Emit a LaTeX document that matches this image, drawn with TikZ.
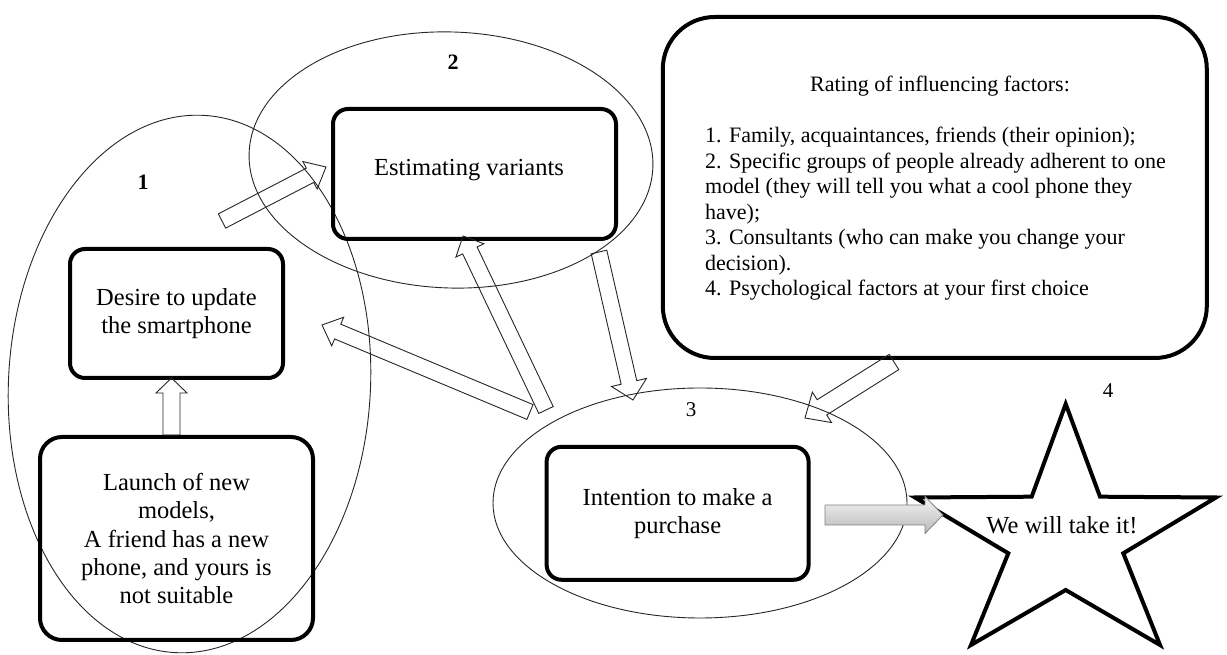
\documentclass[tikz,border=0pt]{standalone}
\usepackage{fontspec}
\setmainfont{Liberation Serif}
\usetikzlibrary{calc}
\tikzset{
  grp/.style={draw=black!85, line width=0.9pt},
  stepbox/.style={draw, line width=4pt, rounded corners=15pt, align=center, inner sep=0pt,
    font=\fontsize{24.5}{28.2}\selectfont},
  lbl/.style={font=\fontsize{21}{24}\selectfont, inner sep=0pt},
  hollow/.style={draw=black!85, line width=0.9pt, line join=miter},
  grayarrow/.style={draw=black!50, line width=0.8pt, top color=gray!8, bottom color=gray!55},
  rtext/.style={font=\fontsize{22}{25.5}\selectfont, inner sep=0pt},
}
% #1 style, #2 from, #3 to, #4 half shaft, #5 half head, #6 head length
\newcommand\barrow[6][hollow]{%
  \coordinate (bh) at ($(#3)!#6!(#2)$);
  \draw[#1] ($(#2)!#4!90:(#3)$) -- ($(bh)!#4!-90:(#2)$) -- ($(bh)!#5!-90:(#2)$) -- (#3)
    -- ($(bh)!#5!90:(#2)$) -- ($(bh)!#4!90:(#2)$) -- ($(#2)!#4!-90:(#3)$) -- cycle;}
\begin{document}
\begin{tikzpicture}[x=1pt,y=1pt]
\useasboundingbox (0,0) rectangle (1227,655);

% group ellipses
\draw[grp, rotate around={-3:(189.5,271)}] (189.5,271) ellipse [x radius=181, y radius=269];
\draw[grp, rotate around={-2:(451,495)}] (451,495) ellipse [x radius=202, y radius=128];
\draw[grp] (700,152) ellipse [x radius=207, y radius=115];

% step boxes
\node[stepbox, minimum width=213, minimum height=129] (desire) at (176.5,341.5) {Desire to update\\the smartphone};
\node[stepbox, rounded corners=22pt, minimum width=273, minimum height=203] (launch) at (176.5,116.5)
  {Launch of new\\models,\\A friend has a new\\phone, and yours is\\not suitable};
\node[stepbox, minimum width=283, minimum height=130] (estim) at (474.5,481) {};
\node[font=\fontsize{24.5}{28.2}\selectfont, inner sep=0pt] (estimtext) at (469,485) {Estimating variants};
\node[stepbox, minimum width=262, minimum height=133] (intent) at (677.6,141.7) {Intention to make a\\purchase};
\node[stepbox, rounded corners=52pt, minimum width=544, minimum height=341] (rating) at (934.8,467.5) {};
\node[rtext, anchor=base] (rtitle) at (940,563) {Rating of influencing factors:};
\node[rtext, anchor=north west, align=left] (rlist) at (705,528)
  {1. Family, acquaintances, friends (their opinion);\\
   2. Specific groups of people already adherent to one\\
   model (they will tell you what a cool phone they\\
   have);\\
   3. Consultants (who can make you change your\\
   decision).\\
   4. Psychological factors at your first choice};

% group labels
\node[lbl, font=\fontsize{22}{24}\selectfont\bfseries] (g1) at (143,473) {1};
\node[lbl, font=\fontsize{22}{24}\selectfont\bfseries] (g2) at (453,593) {2};
\node[lbl] (g3) at (691,245) {3};
\node[lbl] (g4) at (1108,264) {4};

% star
\draw[line width=4pt, line join=miter, fill=white]
  (1065.7,251) -- (1100,158.3) -- (1216,157.5) -- (1123.3,101.7) -- (1160,10)
  -- (1065.7,65) -- (971,10) -- (1008.3,101.7) -- (915,157.5) -- (1031.7,158.3) -- cycle;
\node[font=\fontsize{24.5}{28}\selectfont, inner sep=0pt] (star) at (1062,130) {We will take it!};

% arrow end points
\coordinate (a1s) at (171.5,220);  \coordinate (a1e) at (171.5,277);
\coordinate (a2s) at (222,434);    \coordinate (a2e) at (326,488);
\coordinate (a3s) at (546,245);    \coordinate (a3e) at (463,419);
\coordinate (a4s) at (530,243);    \coordinate (a4e) at (322,330);
\coordinate (a5s) at (599,403);    \coordinate (a5e) at (633,255);
\coordinate (a6s) at (894,293);    \coordinate (a6e) at (805,237);
\coordinate (a7s) at (825,140);    \coordinate (a7e) at (943,140);

\barrow{a1s}{a1e}{8.5pt}{15.5pt}{15pt}
\barrow{a2s}{a2e}{8pt}{15.5pt}{18pt}
\barrow{a3s}{a3e}{8pt}{15.5pt}{16pt}
\barrow{a4s}{a4e}{8pt}{15.5pt}{17pt}
\barrow{a5s}{a5e}{8pt}{18pt}{18pt}
\barrow{a6s}{a6e}{9pt}{18pt}{20pt}
\barrow[grayarrow]{a7s}{a7e}{10pt}{18.5pt}{18pt}
\end{tikzpicture}
\end{document}
